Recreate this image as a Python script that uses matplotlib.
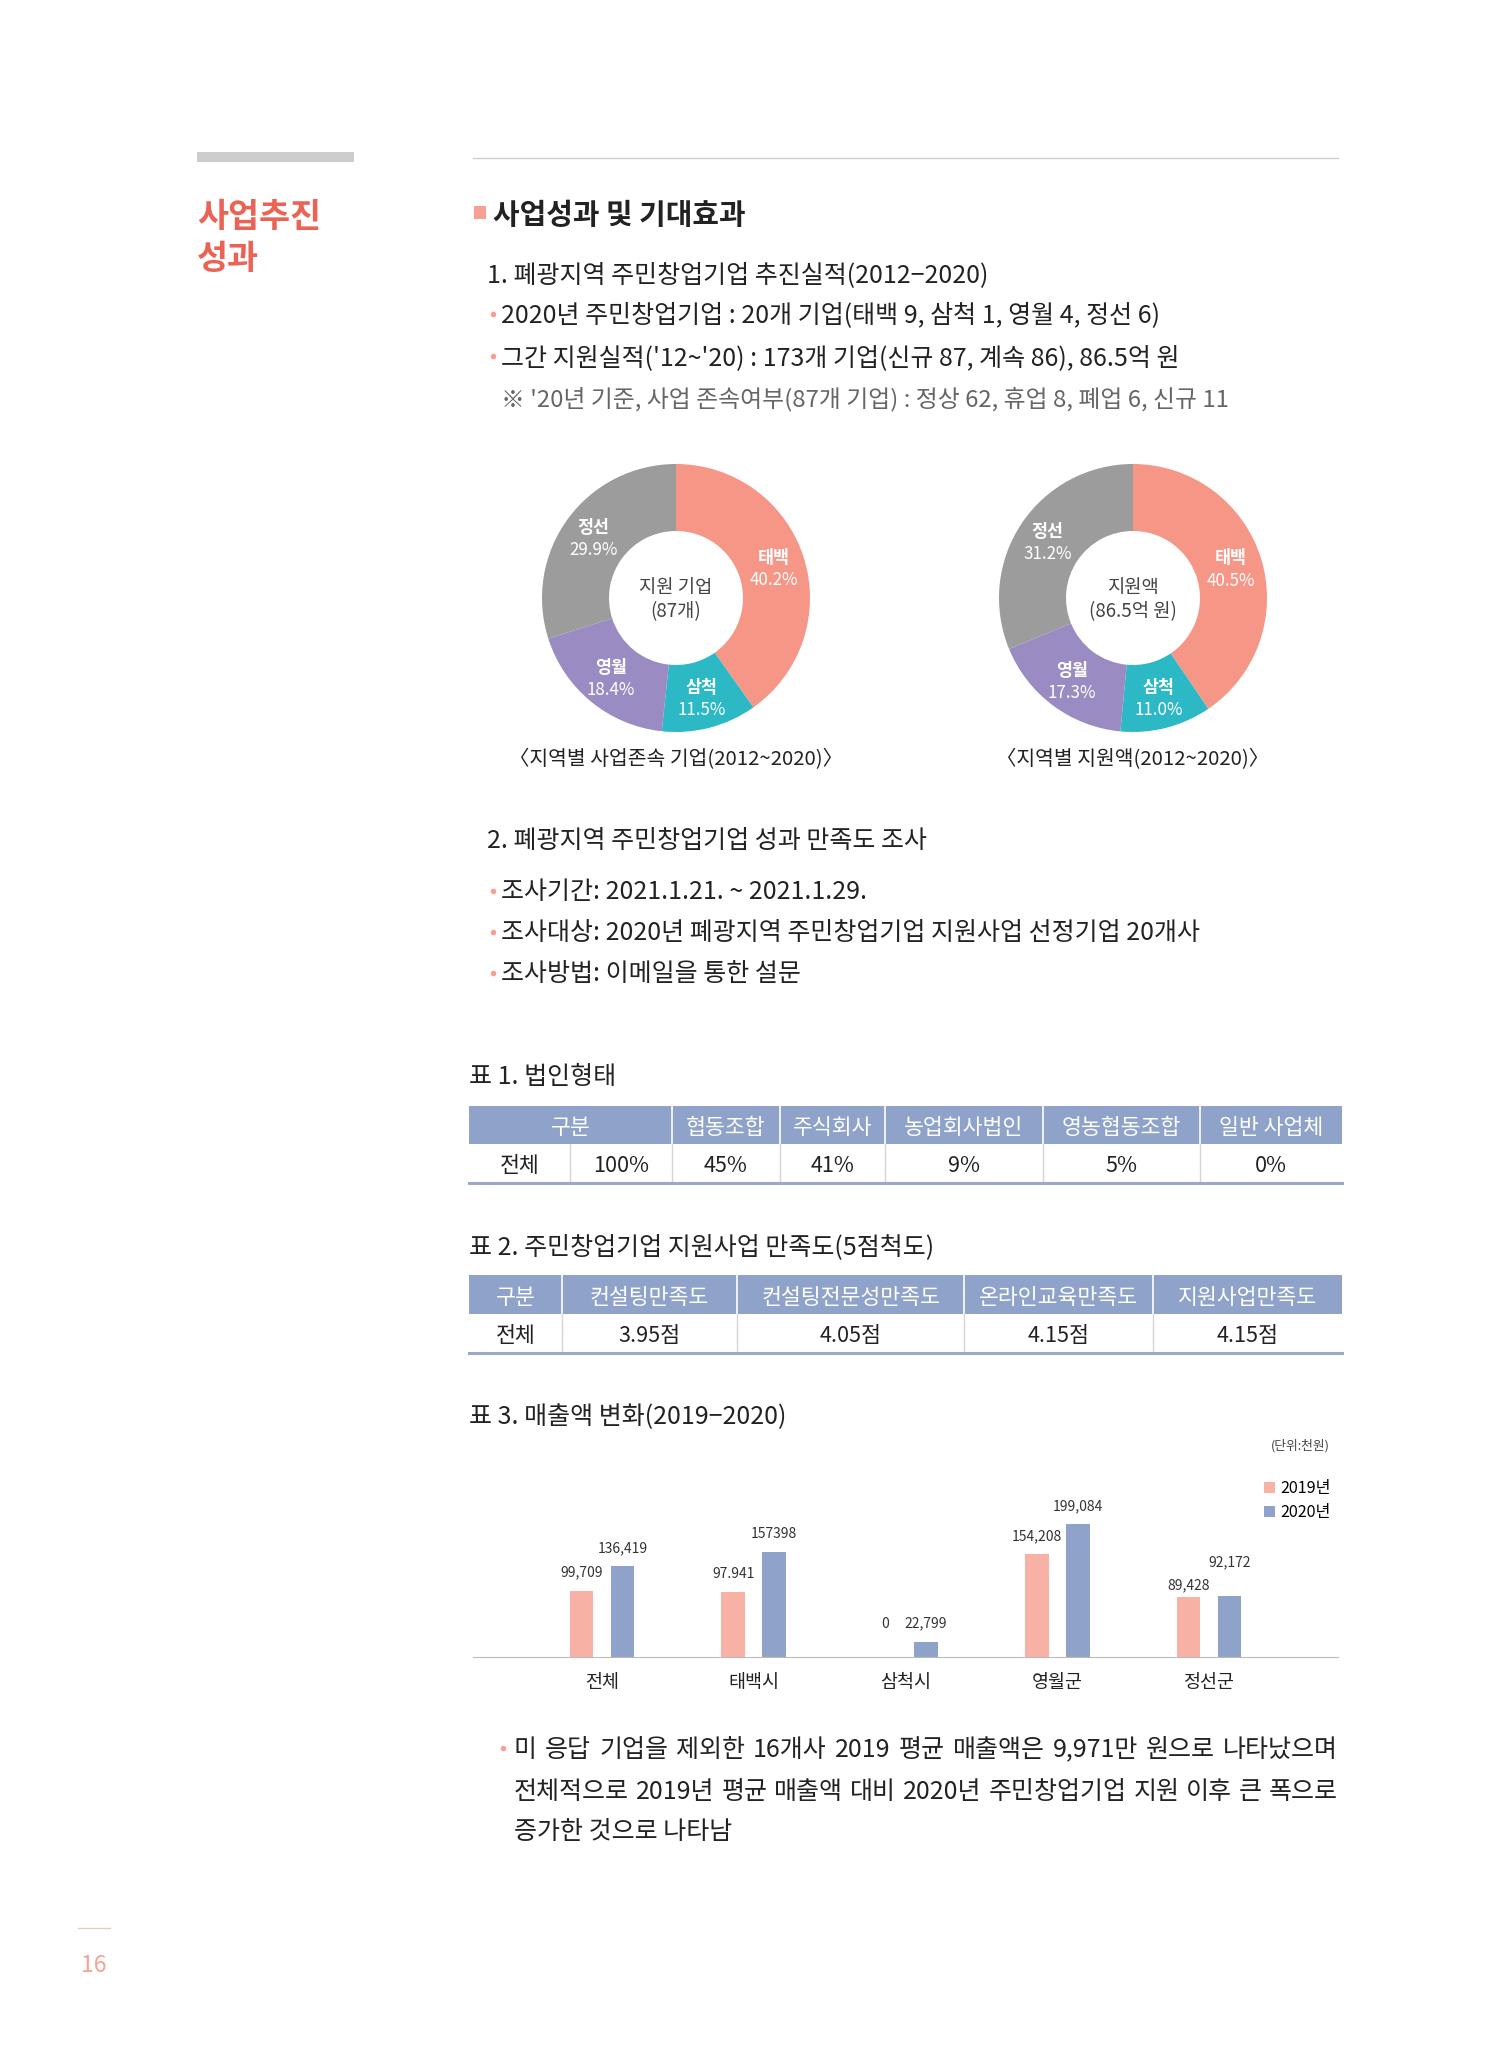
import matplotlib
matplotlib.use("Agg")
import matplotlib.pyplot as plt
from matplotlib.patches import Rectangle
import numpy as np

plt.rcParams['font.family'] = ['Noto Sans CJK KR', 'DejaVu Sans']

W, H = 1496, 2047

# ── data ──────────────────────────────────────────────────────────────────
regions = ["태백", "삼척", "영월", "정선"]
company_share = [40.2, 11.5, 18.4, 29.9]
funding_share = [40.5, 11.0, 17.3, 31.2]

t1_header = ["구분", "협동조합", "주식회사", "농업회사법인", "영농협동조합", "일반 사업체"]
t1_row = ["전체", "100%", "45%", "41%", "9%", "5%", "0%"]

t2_header = ["구분", "컨설팅만족도", "컨설팅전문성만족도", "온라인교육만족도", "지원사업만족도"]
t2_row = ["전체", "3.95점", "4.05점", "4.15점", "4.15점"]

cities = ["전체", "태백시", "삼척시", "영월군", "정선군"]
sales_2019 = [99709, 97941, 0, 154208, 89428]
sales_2020 = [136419, 157398, 22799, 199084, 92172]
sales_2019_txt = ["99,709", "97.941", "0", "154,208", "89,428"]
sales_2020_txt = ["136,419", "157398", "22,799", "199,084", "92,172"]

# ── style ─────────────────────────────────────────────────────────────────
DARK = "#222222"
RED = "#EA6355"
PINK = "#F4A093"
REGION_COLORS = ["#F59687", "#2DB8C5", "#9A8CC3", "#9C9C9C"]
HEAD = "#8FA2C9"
C19 = "#F7B2A5"
C20 = "#8FA2CA"
BODY = 18
# label offsets above bar tops (points); the last group is staggered
lift_2019 = [13, 13, 13, 13, 9]
lift_2020 = [13, 13, 13, 13, 24]

fig = plt.figure(figsize=(W / 100, H / 100), dpi=100)
page = fig.add_axes([0, 0, 1, 1])
page.set_xlim(0, W)
page.set_ylim(H, 0)
page.axis("off")


def box(x0, y0, x1, y1):
    return [x0 / W, 1 - y1 / H, (x1 - x0) / W, (y1 - y0) / H]


def txt(x, y, s, size=BODY, color=DARK, **kw):
    # CJK glyph boxes sit a little high with va="center"
    return page.text(x, y + 3, s, fontsize=size, color=color, va="center", **kw)


def bullet(x, y):
    page.plot([x], [y], "o", ms=4, color=PINK, mec="none")


def justified(x0, x1, y, line, size=BODY):
    words = line.split(" ")
    r = fig.canvas.get_renderer()
    items = [txt(0, y, w_, size) for w_ in words]
    widths = [t.get_window_extent(r).width for t in items]
    gap = (x1 - x0 - sum(widths)) / (len(words) - 1)
    x = x0
    for t, w_ in zip(items, widths):
        t.set_x(x)
        x += w_ + gap


# ── header area ───────────────────────────────────────────────────────────
page.add_patch(Rectangle((197, 152), 157, 10, color="#CCCCCC", lw=0))
page.plot([473, 1338], [158, 158], color="#D0D0D0", lw=1)
txt(197, 214, "사업추진", 24.3, RED, weight="bold")
txt(197, 256, "성과", 24.3, RED, weight="bold")
page.add_patch(Rectangle((474, 206), 12, 13, color=PINK, lw=0))
txt(493, 212, "사업성과 및 기대효과", 20.8, DARK, weight="bold")

txt(487, 272, "1. 폐광지역 주민창업기업 추진실적(2012−2020)")
bullet(493, 314)
txt(501, 313, "2020년 주민창업기업 : 20개 기업(태백 9, 삼척 1, 영월 4, 정선 6)")
bullet(493, 356)
txt(501, 355, "그간 지원실적('12~'20) : 173개 기업(신규 87, 계속 86), 86.5억 원")
txt(501, 396, "※ '20년 기준, 사업 존속여부(87개 기업) : 정상 62, 휴업 8, 폐업 6, 신규 11",
    17.2, "#666666")

# ── donuts ────────────────────────────────────────────────────────────────
R = 134


def donut(cx, cy, values, lines, caption):
    ax = fig.add_axes(box(cx - R, cy - R, cx + R, cy + R))
    wedges, _ = ax.pie(values, colors=REGION_COLORS, startangle=90,
                       counterclock=False, radius=1,
                       wedgeprops=dict(width=0.5, edgecolor="none"))
    ax.set_xlim(-1, 1)
    ax.set_ylim(-1, 1)
    for w, name, v in zip(wedges, regions, values):
        a = np.deg2rad((w.theta1 + w.theta2) / 2)
        x, y = 0.765 * np.cos(a), 0.765 * np.sin(a)
        ax.text(x, y + 0.07, name, color="white", fontsize=12.5,
                weight="bold", ha="center", va="center")
        ax.text(x, y - 0.095, f"{v:.1f}%", color="white", fontsize=12.2,
                ha="center", va="center")
    ax.text(0, 0.08, lines[0], fontsize=13.5, color="#444444",
            ha="center", va="center")
    ax.text(0, -0.1, lines[1], fontsize=13.5, color="#444444",
            ha="center", va="center")
    txt(cx, 757, caption, 14.7, DARK, ha="center")


donut(676, 598, company_share, ("지원 기업", "(87개)"),
      "〈지역별 사업존속 기업(2012~2020)〉")
donut(1133, 598, funding_share, ("지원액", "(86.5억 원)"),
      "〈지역별 지원액(2012~2020)〉")

# ── section 2 ─────────────────────────────────────────────────────────────
txt(487, 838, "2. 폐광지역 주민창업기업 성과 만족도 조사")
bullet(493, 891)
txt(501, 889, "조사기간: 2021.1.21. ~ 2021.1.29.")
bullet(493, 932)
txt(501, 930, "조사대상: 2020년 폐광지역 주민창업기업 지원사업 선정기업 20개사")
bullet(493, 973)
txt(501, 971, "조사방법: 이메일을 통한 설문")


# ── tables ────────────────────────────────────────────────────────────────
def table(top, mid, bot, head_edges, row_edges, header, row):
    x0, x1 = row_edges[0], row_edges[-1]
    page.add_patch(Rectangle((x0, top), x1 - x0, mid - top, color=HEAD, lw=0))
    for e in head_edges[1:-1]:
        page.plot([e, e], [top, mid], color="white", lw=1.2)
    for e in row_edges[1:-1]:
        page.plot([e, e], [mid, bot], color="#D5D5D5", lw=1)
    page.plot([x0, x1], [bot, bot], color="#9AA9C8", lw=2.2)
    for a, b, s in zip(head_edges[:-1], head_edges[1:], header):
        txt((a + b) / 2, (top + mid) / 2, s, 15.6, "white", ha="center")
    for a, b, s in zip(row_edges[:-1], row_edges[1:], row):
        txt((a + b) / 2, (mid + bot) / 2, s, 15.6, DARK, ha="center")


txt(469, 1074, "표 1. 법인형태")
t1_edges = [469, 570, 672, 780, 885, 1043, 1200, 1342]
table(1106, 1144, 1183, [t1_edges[0]] + t1_edges[2:], t1_edges, t1_header, t1_row)

txt(469, 1244, "표 2. 주민창업기업 지원사업 만족도(5점척도)")
t2_edges = [469, 562, 737, 964, 1153, 1342]
table(1275, 1314, 1353, t2_edges, t2_edges, t2_header, t2_row)

# ── bar chart ─────────────────────────────────────────────────────────────
txt(469, 1414, "표 3. 매출액 변화(2019−2020)")
txt(1330, 1443, "(단위:천원)", 9.2, "#444444", ha="right")

bx = fig.add_axes(box(473, 1457, 1338, 1657))
x = np.arange(len(cities))
off, bw = 0.135, 0.155
b19 = bx.bar(x - off, sales_2019, bw, color=C19, label="2019년")
b20 = bx.bar(x + off, sales_2020, bw, color=C20, label="2020년")
bx.set_xlim(-0.85, 4.85)
bx.set_ylim(0, 300000)
for i in range(len(cities)):
    y19 = sales_2019[i] if sales_2019[i] else sales_2020[i]
    bx.annotate(sales_2019_txt[i], (x[i] - off, y19), xytext=(0, lift_2019[i]),
                textcoords="offset points", ha="center", va="center",
                fontsize=10, color="#333333")
    bx.annotate(sales_2020_txt[i], (x[i] + off, sales_2020[i]),
                xytext=(0, lift_2020[i]), textcoords="offset points",
                ha="center", va="center", fontsize=10, color="#333333")
bx.set_xticks(x, cities, fontsize=13.3, color=DARK)
bx.tick_params(length=0, pad=12)
bx.set_yticks([])
for s in ("top", "left", "right"):
    bx.spines[s].set_visible(False)
bx.spines["bottom"].set_color("#BBBBBB")
bx.patch.set_alpha(0)
bx.legend(loc="upper left", bbox_to_anchor=(1264 / W, 1 - 1480 / H),
          bbox_transform=fig.transFigure, frameon=False, fontsize=11.6,
          handlelength=0.7, handleheight=0.7, handletextpad=0.3,
          labelspacing=0.45, borderpad=0, borderaxespad=0)

# ── closing paragraph ─────────────────────────────────────────────────────
bullet(503, 1748)
justified(514, 1338, 1747, "미 응답 기업을 제외한 16개사 2019 평균 매출액은 9,971만 원으로 나타났으며")
justified(514, 1338, 1789, "전체적으로 2019년 평균 매출액 대비 2020년 주민창업기업 지원 이후 큰 폭으로")
txt(514, 1829, "증가한 것으로 나타남")

page.plot([78, 110], [1928, 1928], color="#E8C8C2", lw=1)
txt(94, 1963, "16", 16.5, "#F2A497", ha="center")

fig.savefig("out.png", dpi=100)
